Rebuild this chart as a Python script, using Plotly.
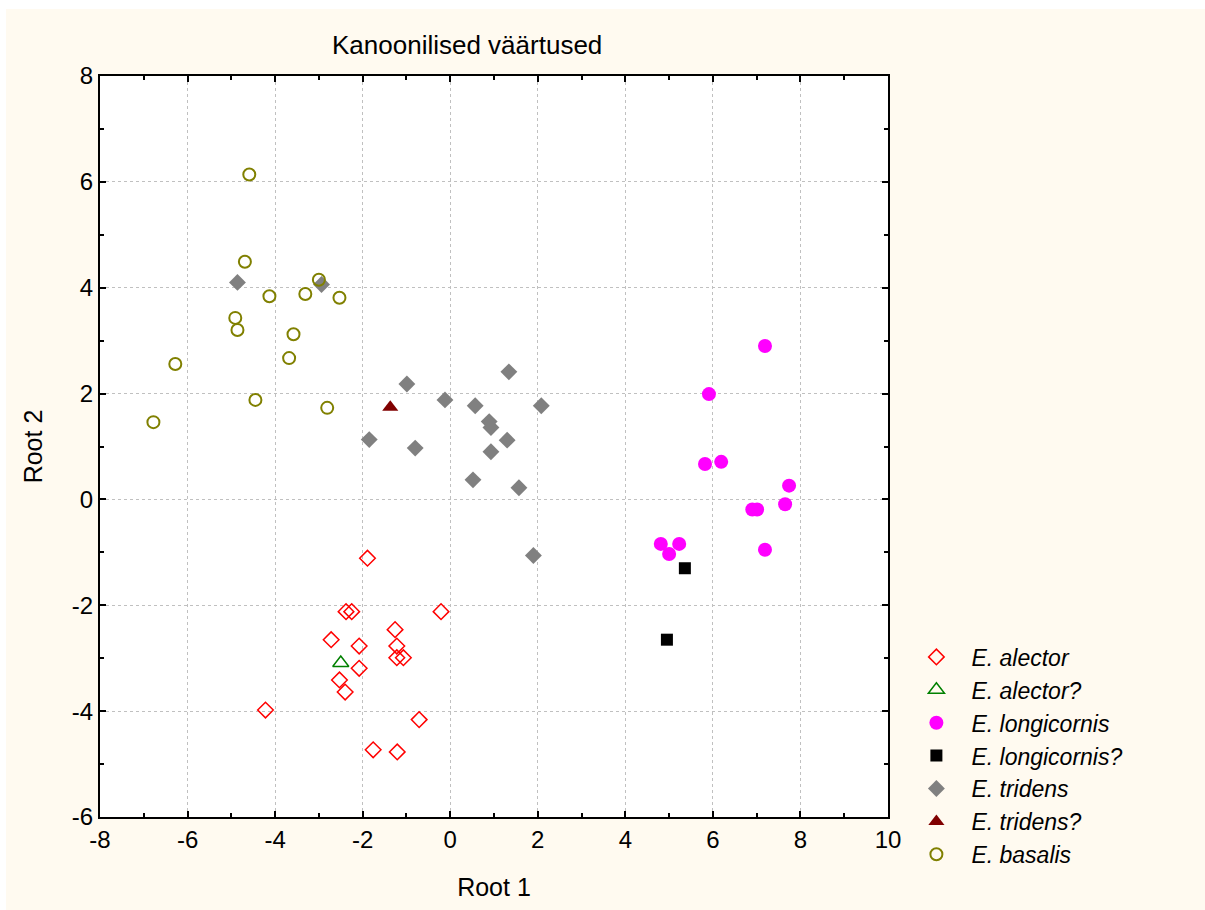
import plotly.graph_objects as go

# ---- data ----
alector_x = [-1.89, -2.38, -2.25, -0.21, -1.26, -2.72, -2.08, -1.22, -1.22, -1.07, -2.08, -2.53, -2.40, -4.22, -0.71, -1.76, -1.21]
alector_y = [-1.11, -2.12, -2.12, -2.12, -2.46, -2.65, -2.77, -2.77, -2.99, -2.99, -3.19, -3.41, -3.64, -3.98, -4.16, -4.73, -4.77]

alector_q_x = [-2.50]
alector_q_y = [-3.09]

longi_x = [7.19, 5.91, 5.82, 6.19, 7.74, 7.65, 6.90, 7.01, 4.81, 5.23, 5.00, 7.19]
longi_y = [2.90, 1.99, 0.67, 0.71, 0.26, -0.09, -0.19, -0.19, -0.84, -0.84, -1.03, -0.95]

longi_q_x = [5.36, 4.95]
longi_q_y = [-1.30, -2.65]

tridens_x = [-4.86, -2.94, 1.34, -0.99, -0.12, 0.57, 2.08, 0.89, 0.93, -1.85, 1.30, -0.80, 0.93, 0.52, 1.57, 1.90]
tridens_y = [4.10, 4.06, 2.41, 2.18, 1.88, 1.77, 1.77, 1.47, 1.36, 1.13, 1.12, 0.97, 0.90, 0.37, 0.22, -1.06]

tridens_q_x = [-1.37]
tridens_q_y = [1.74]

basalis_x = [-4.59, -4.69, -3.00, -4.13, -3.31, -2.53, -4.91, -4.86, -3.58, -3.68, -6.28, -4.45, -2.81, -6.78]
basalis_y = [6.14, 4.49, 4.15, 3.84, 3.88, 3.81, 3.43, 3.20, 3.12, 2.67, 2.56, 1.88, 1.73, 1.46]

names = ["E. alector", "E. alector?", "E. longicornis", "E. longicornis?",
         "E. tridens", "E. tridens?", "E. basalis"]

x_ticks = [-8, -6, -4, -2, 0, 2, 4, 6, 8, 10]
y_ticks = [-6, -4, -2, 0, 2, 4, 6, 8]

title_text = "Kanoonilised väärtused"
x_title = "Root 1"
y_title = "Root 2"

FONT = "Liberation Sans, Arial"

# ---- figure ----
fig = go.Figure()

def add(xs, ys, name, symbol, color, size, open_=False, line_w=1.5):
    if open_:
        marker = dict(symbol=symbol, size=size, color=color,
                      line=dict(color=color, width=line_w))
    else:
        marker = dict(symbol=symbol, size=size, color=color, line=dict(width=0))
    fig.add_trace(go.Scatter(x=xs, y=ys, mode="markers", name="<i>" + name + "</i>",
                             marker=marker))

add(alector_x, alector_y, names[0], "diamond-open", "#FF0000", 12, open_=True)
add(alector_q_x, alector_q_y, names[1], "triangle-up-open", "#008000", 14, open_=True)
add(longi_x, longi_y, names[2], "circle", "#FF00FF", 14)
add(longi_q_x, longi_q_y, names[3], "square", "#000000", 12)
add(tridens_x, tridens_y, names[4], "diamond", "#808080", 13)
add(tridens_q_x, tridens_q_y, names[5], "triangle-up", "#800000", 14)
add(basalis_x, basalis_y, names[6], "circle-open", "#808000", 12, open_=True, line_w=2)

axis_common = dict(
    showline=True, linecolor="black", linewidth=2, mirror="ticks",
    ticks="inside", ticklen=6, tickwidth=2, tickcolor="black",
    showgrid=True, gridcolor="#C0C0C0", griddash="dot", gridwidth=1,
    zeroline=False,
    tickfont=dict(family=FONT, size=24, color="black"),
    minor=dict(ticks="inside", ticklen=4, tickwidth=2, tickcolor="black",
               dtick=1, showgrid=False),
)

fig.update_xaxes(range=[-8, 10], tickvals=x_ticks, ticktext=[str(v) for v in x_ticks],
                 title=dict(text=x_title, font=dict(family=FONT, size=25, color="black"), standoff=27),
                 **axis_common)
fig.update_yaxes(range=[-6, 8], tickvals=y_ticks, ticktext=[str(v) for v in y_ticks],
                 title=dict(text=y_title, font=dict(family=FONT, size=25, color="black"), standoff=22),
                 **axis_common)

fig.update_layout(
    width=1205, height=910,
    margin=dict(l=100, r=317, t=76, b=93),
    paper_bgcolor="#FFFAF0",
    plot_bgcolor="white",
    font=dict(family=FONT, color="black"),
    showlegend=True,
    legend=dict(x=1.017, y=0.245, xanchor="left", yanchor="top",
                bgcolor="rgba(0,0,0,0)",
                font=dict(family=FONT, size=23, color="black"),
                tracegroupgap=0, itemsizing="trace", itemwidth=60),
    annotations=[dict(text=title_text, xref="paper", yref="paper",
                      x=(467 - 100) / 788, y=(817 - 45) / 741,
                      xanchor="center", yanchor="middle", showarrow=False,
                      font=dict(family=FONT, size=26, color="black"))],
    shapes=[
        dict(type="rect", xref="paper", yref="paper", x0=-0.2, x1=1.5,
             y0=(817 - 9) / 741, y1=1.2, fillcolor="white", line=dict(width=0), layer="below"),
        dict(type="rect", xref="paper", yref="paper", x0=-0.2, x1=(6 - 100) / 788,
             y0=-0.2, y1=1.2, fillcolor="white", line=dict(width=0), layer="below"),
    ],
)

fig.write_html("out.html")
